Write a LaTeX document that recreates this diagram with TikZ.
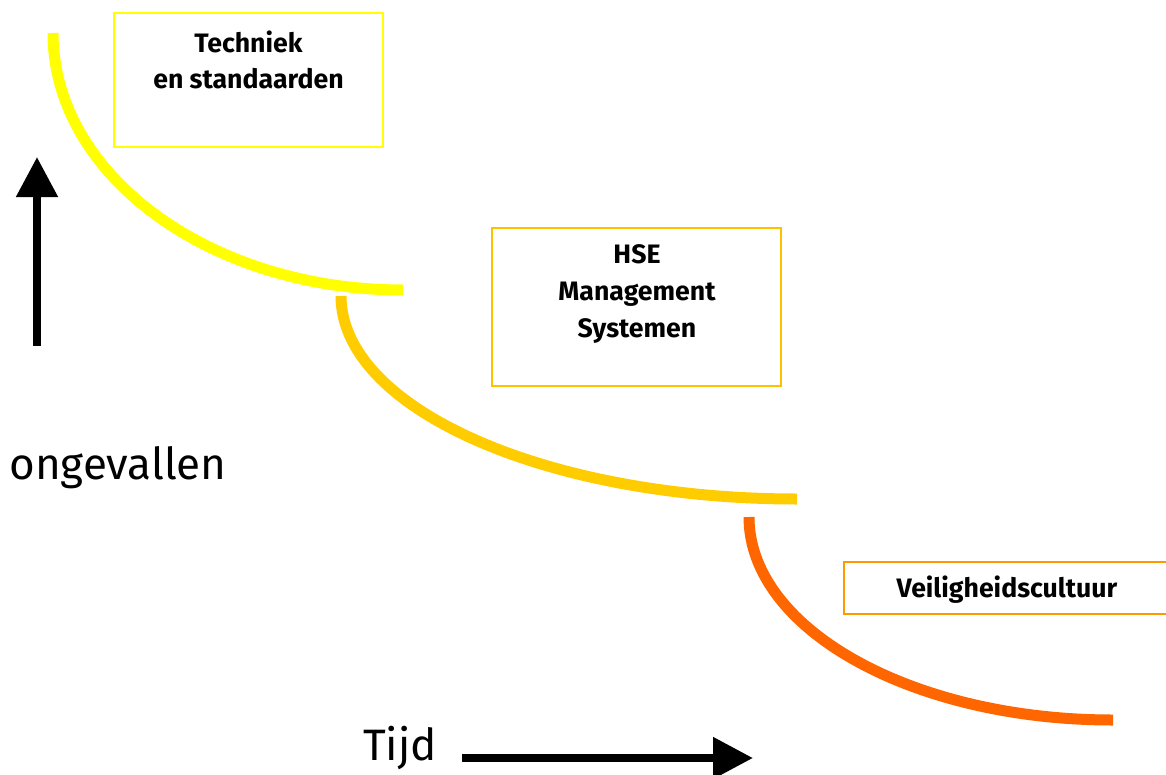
\documentclass[tikz,border=0pt]{standalone}
\usepackage{fontspec}
\setmainfont{Fira Sans}
\usetikzlibrary{arrows.meta}
\definecolor{cyel}{HTML}{FFFF00}
\definecolor{cgold}{HTML}{FFCC00}
\definecolor{cgoldbox}{HTML}{FFC000}
\definecolor{corange}{HTML}{FF6600}
\definecolor{corangebox}{HTML}{FF9900}
\begin{document}
\begin{tikzpicture}[x=0.75pt,y=-0.75pt,
  curve/.style={line width=8.25pt, line cap=butt},
  boxframe/.style={draw, line width=1.5pt, inner sep=0pt, rectangle},
  lbl/.style={font=\bfseries\fontsize{20}{27.5}\selectfont, align=center, inner sep=0pt},
  big/.style={font=\fontsize{33}{36}\selectfont, inner sep=0pt},
  axis/.style={line width=6pt, -{Triangle[length=30pt,width=30pt]}}]
\useasboundingbox (0,0) rectangle (1166,774);

% boxes
\node[boxframe, draw=cyel, minimum width=201.75pt, minimum height=100.5pt] (b1) at (248.5,80) {};
\node[lbl] (t1) at (248.5,60) {Techniek\\en standaarden};

\node[boxframe, draw=cgoldbox, minimum width=216.75pt, minimum height=118.5pt] (b2) at (636.5,307) {};
\node[lbl] (t2) at (637,294) {HSE\\Management\\Systemen};

\node[boxframe, draw=corangebox, minimum width=248.25pt, minimum height=39pt] (b3) at (1009.5,588) {};
\node[lbl] (t3) at (1007,590) {Veiligheidscultuur};

% curves
\coordinate (y0) at (53,33);
\coordinate (y1) at (403,290);
\draw[curve, cyel] (y0) .. controls (53,175) and (210,290) .. (y1);

\coordinate (g0) at (341,296);
\coordinate (g1) at (797,499);
\draw[curve, cgold] (g0) .. controls (341,408) and (545,499) .. (g1);

\coordinate (o0) at (749,517);
\coordinate (o1) at (1113,720);
\draw[curve, corange] (o0) .. controls (749,629) and (912,720) .. (o1);

% axes
\coordinate (ua1) at (37,346);
\coordinate (ua2) at (37,157);
\draw[axis] (ua1) -- (ua2);

\coordinate (ra1) at (462,758);
\coordinate (ra2) at (753,758);
\draw[axis] (ra1) -- (ra2);

\node[big] (ong) at (118,468) {ongevallen};
\node[big] (tijd) at (400,748) {Tijd};
\end{tikzpicture}
\end{document}
